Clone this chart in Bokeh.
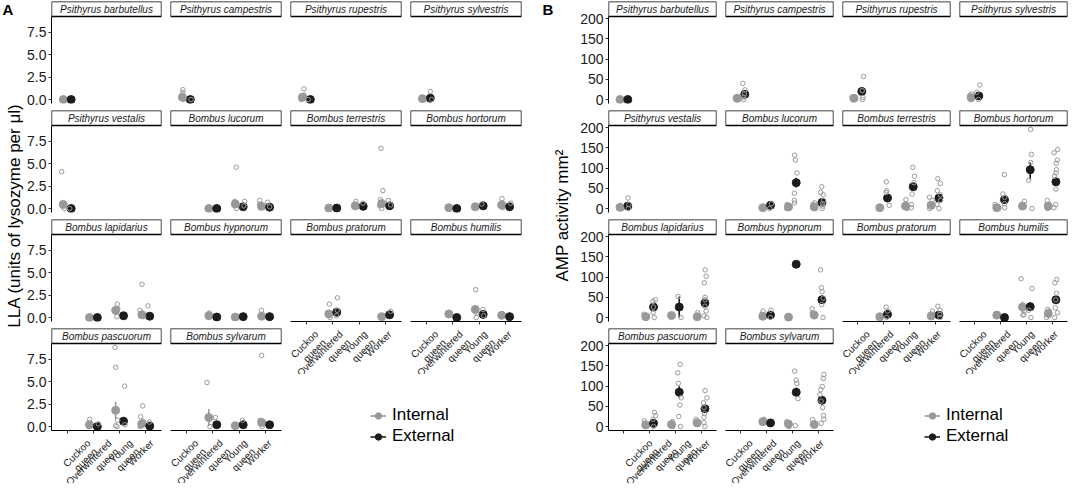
import math
from bokeh.plotting import figure
from bokeh.layouts import row, column
from bokeh.models import (Range1d, FixedTicker, PrintfTickFormatter, ColumnDataSource,
                          Legend, LegendItem, BoxAnnotation, Label)
from bokeh.transform import jitter
from bokeh.core.properties import value
from bokeh.embed import file_html
from bokeh.resources import INLINE

# ---------------- data ----------------
CASTES = ["Cuckoo queen", "Overwintered queen", "Young queen", "Worker"]
CASTE_CODES = ["C", "O", "Y", "W"]
CASTE_TICK_LABELS = ["Cuckoo\nqueen", "Overwintered\nqueen", "Young\nqueen", "Worker"]
SOURCES = ["Internal", "External"]
SOURCE_CODES = ["I", "E"]
SPECIES = ["Psithyrus barbutellus", "Psithyrus campestris", "Psithyrus rupestris", "Psithyrus sylvestris",
           "Psithyrus vestalis", "Bombus lucorum", "Bombus terrestris", "Bombus hortorum",
           "Bombus lapidarius", "Bombus hypnorum", "Bombus pratorum", "Bombus humilis",
           "Bombus pascuorum", "Bombus sylvarum"]

LLA_TITLE = "LLA (units of lysozyme per μl)"
LLA_TICKS = [0, 2.5, 5, 7.5]
# (species epithet, caste, source, mean, low, high)
LLA_MEANS = [
    ("barbutellus", "C", "I", 0.0, 0.0, 0.0), ("barbutellus", "C", "E", 0.0, 0.0, 0.0),
    ("campestris", "C", "I", 0.25, 0.1, 0.4), ("campestris", "C", "E", 0.0, 0.0, 0.0),
    ("rupestris", "C", "I", 0.25, 0.05, 0.45), ("rupestris", "C", "E", 0.0, 0.0, 0.0),
    ("sylvestris", "C", "I", 0.1, 0.0, 0.2), ("sylvestris", "C", "E", 0.15, 0.0, 0.3),
    ("vestalis", "C", "I", 0.45, 0.2, 0.7), ("vestalis", "C", "E", 0.0, 0.0, 0.0),
    ("lucorum", "O", "I", 0.0, 0.0, 0.0), ("lucorum", "O", "E", 0.0, 0.0, 0.0),
    ("lucorum", "Y", "I", 0.5, 0.1, 0.9), ("lucorum", "Y", "E", 0.2, 0.1, 0.3),
    ("lucorum", "W", "I", 0.25, 0.1, 0.4), ("lucorum", "W", "E", 0.15, 0.05, 0.25),
    ("terrestris", "O", "I", 0.05, 0.05, 0.05), ("terrestris", "O", "E", 0.05, 0.05, 0.05),
    ("terrestris", "Y", "I", 0.3, 0.2, 0.4), ("terrestris", "Y", "E", 0.25, 0.15, 0.35),
    ("terrestris", "W", "I", 0.55, 0.2, 0.9), ("terrestris", "W", "E", 0.3, 0.15, 0.45),
    ("hortorum", "O", "I", 0.1, 0.1, 0.1), ("hortorum", "O", "E", 0.0, 0.0, 0.0),
    ("hortorum", "Y", "I", 0.2, 0.1, 0.3), ("hortorum", "Y", "E", 0.3, 0.2, 0.4),
    ("hortorum", "W", "I", 0.4, 0.2, 0.6), ("hortorum", "W", "E", 0.2, 0.1, 0.3),
    ("lapidarius", "O", "I", 0.0, 0.0, 0.0), ("lapidarius", "O", "E", 0.0, 0.0, 0.0),
    ("lapidarius", "Y", "I", 0.8, 0.35, 1.25), ("lapidarius", "Y", "E", 0.2, 0.1, 0.3),
    ("lapidarius", "W", "I", 0.3, 0.1, 0.5), ("lapidarius", "W", "E", 0.15, 0.05, 0.25),
    ("hypnorum", "O", "I", 0.2, 0.1, 0.3), ("hypnorum", "O", "E", 0.05, 0.05, 0.05),
    ("hypnorum", "Y", "I", 0.05, 0.05, 0.05), ("hypnorum", "Y", "E", 0.1, 0.1, 0.1),
    ("hypnorum", "W", "I", 0.15, 0.05, 0.25), ("hypnorum", "W", "E", 0.1, 0.1, 0.1),
    ("pratorum", "O", "I", 0.4, 0.2, 0.6), ("pratorum", "O", "E", 0.6, 0.3, 0.9),
    ("pratorum", "W", "I", 0.1, 0.1, 0.1), ("pratorum", "W", "E", 0.3, 0.15, 0.45),
    ("humilis", "O", "I", 0.4, 0.4, 0.4), ("humilis", "O", "E", 0.0, 0.0, 0.0),
    ("humilis", "Y", "I", 0.9, 0.4, 1.4), ("humilis", "Y", "E", 0.35, 0.2, 0.5),
    ("humilis", "W", "I", 0.25, 0.15, 0.35), ("humilis", "W", "E", 0.1, 0.1, 0.1),
    ("pascuorum", "O", "I", 0.2, 0.1, 0.3), ("pascuorum", "O", "E", 0.0, 0.0, 0.0),
    ("pascuorum", "Y", "I", 1.8, 0.85, 2.75), ("pascuorum", "Y", "E", 0.6, 0.3, 0.9),
    ("pascuorum", "W", "I", 0.3, 0.1, 0.5), ("pascuorum", "W", "E", 0.05, 0.05, 0.05),
    ("sylvarum", "O", "I", 1.0, 0.05, 1.95), ("sylvarum", "O", "E", 0.2, 0.05, 0.35),
    ("sylvarum", "Y", "I", 0.1, 0.1, 0.1), ("sylvarum", "Y", "E", 0.2, 0.1, 0.3),
    ("sylvarum", "W", "I", 0.45, 0.15, 0.75), ("sylvarum", "W", "E", 0.2, 0.1, 0.3),
]
# (species epithet, caste, source, individual values)
LLA_RAW = [
    ("campestris", "C", "I", [1.1, 0.8, 0.5, 0.2, 0.0]), ("campestris", "C", "E", [0.0]),
    ("rupestris", "C", "I", [1.2, 0.5, 0.3, 0.1, 0.0]), ("rupestris", "C", "E", [0.0]),
    ("sylvestris", "C", "I", [0.2, 0.0]), ("sylvestris", "C", "E", [0.9, 0.0]),
    ("vestalis", "C", "I", [4.1, 0.6, 0.3, 0.0]), ("vestalis", "C", "E", [0.0]),
    ("lucorum", "Y", "I", [4.6, 0.8, 0.4, 0.0]), ("lucorum", "Y", "E", [0.8, 0.3]),
    ("lucorum", "W", "I", [0.9, 0.5, 0.1]), ("lucorum", "W", "E", [0.7, 0.2]),
    ("terrestris", "Y", "I", [0.8, 0.2]), ("terrestris", "Y", "E", [0.6]),
    ("terrestris", "W", "I", [6.7, 2.0, 1.0, 0.3, 0.0]), ("terrestris", "W", "E", [0.9, 0.4]),
    ("hortorum", "Y", "E", [0.5]), ("hortorum", "W", "I", [1.1, 0.6, 0.1]), ("hortorum", "W", "E", [0.6]),
    ("lapidarius", "Y", "I", [1.5, 1.0, 0.1]), ("lapidarius", "W", "I", [3.7, 0.8, 0.5, 0.1]),
    ("lapidarius", "W", "E", [1.3]),
    ("hypnorum", "O", "I", [0.5]), ("hypnorum", "W", "I", [0.8]),
    ("pratorum", "O", "I", [1.5, 0.5, 0.0]), ("pratorum", "O", "E", [2.2, 0.8, 0.2]),
    ("pratorum", "W", "E", [0.7]),
    ("humilis", "Y", "I", [3.1, 0.5, 0.0]), ("humilis", "Y", "E", [0.9, 0.2]),
    ("pascuorum", "O", "I", [0.8, 0.3, 0.0]), ("pascuorum", "O", "E", [0.3]),
    ("pascuorum", "Y", "I", [8.8, 6.6, 0.7, 0.1, 0.0]), ("pascuorum", "Y", "E", [4.5, 0.2]),
    ("pascuorum", "W", "I", [2.3, 1.1, 0.6, 0.1, 0.0]), ("pascuorum", "W", "E", [0.5]),
    ("sylvarum", "O", "I", [4.9, 0.0]), ("sylvarum", "O", "E", [1.0]),
    ("sylvarum", "Y", "E", [0.7]), ("sylvarum", "W", "I", [7.9, 0.7, 0.4, 0.0]),
]

AMP_TITLE = "AMP activity mm²"
AMP_TICKS = [0, 50, 100, 150, 200]
AMP_MEANS = [
    ("barbutellus", "C", "I", 0, 0, 0), ("barbutellus", "C", "E", 0, 0, 0),
    ("campestris", "C", "I", 3, 1, 5), ("campestris", "C", "E", 13, 7, 19),
    ("rupestris", "C", "I", 3, 1, 5), ("rupestris", "C", "E", 20, 12, 28),
    ("sylvestris", "C", "I", 5, 2, 8), ("sylvestris", "C", "E", 9, 4, 14),
    ("vestalis", "C", "I", 3, 1, 5), ("vestalis", "C", "E", 6, 2, 10),
    ("lucorum", "O", "I", 2, 2, 2), ("lucorum", "O", "E", 8, 4, 12),
    ("lucorum", "Y", "I", 4, 2, 6), ("lucorum", "Y", "E", 64, 52, 76),
    ("lucorum", "W", "I", 4, 2, 6), ("lucorum", "W", "E", 15, 9, 21),
    ("terrestris", "O", "I", 2, 2, 2), ("terrestris", "O", "E", 26, 18, 34),
    ("terrestris", "Y", "I", 6, 3, 9), ("terrestris", "Y", "E", 54, 45, 63),
    ("terrestris", "W", "I", 8, 5, 11), ("terrestris", "W", "E", 26, 19, 33),
    ("hortorum", "O", "I", 2, 2, 2), ("hortorum", "O", "E", 22, 15, 30),
    ("hortorum", "Y", "I", 6, 3, 9), ("hortorum", "Y", "E", 96, 72, 114),
    ("hortorum", "W", "I", 6, 3, 9), ("hortorum", "W", "E", 66, 56, 78),
    ("lapidarius", "O", "I", 2, 2, 2), ("lapidarius", "O", "E", 26, 16, 36),
    ("lapidarius", "Y", "I", 5, 5, 5), ("lapidarius", "Y", "E", 26, 0, 52),
    ("lapidarius", "W", "I", 2, 1, 3), ("lapidarius", "W", "E", 36, 26, 46),
    ("hypnorum", "O", "I", 3, 1, 5), ("hypnorum", "O", "E", 6, 2, 11),
    ("hypnorum", "Y", "I", 1, 1, 1), ("hypnorum", "Y", "E", 132, 132, 132),
    ("hypnorum", "W", "I", 6, 3, 9), ("hypnorum", "W", "E", 44, 34, 54),
    ("pratorum", "O", "I", 2, 2, 2), ("pratorum", "O", "E", 8, 3, 13),
    ("pratorum", "W", "I", 4, 2, 6), ("pratorum", "W", "E", 6, 2, 11),
    ("humilis", "O", "I", 6, 6, 6), ("humilis", "O", "E", 0, 0, 0),
    ("humilis", "Y", "I", 26, 12, 40), ("humilis", "Y", "E", 27, 16, 38),
    ("humilis", "W", "I", 10, 6, 14), ("humilis", "W", "E", 44, 36, 53),
    ("pascuorum", "O", "I", 4, 2, 6), ("pascuorum", "O", "E", 8, 2, 15),
    ("pascuorum", "Y", "I", 5, 2, 8), ("pascuorum", "Y", "E", 85, 72, 100),
    ("pascuorum", "W", "I", 9, 6, 12), ("pascuorum", "W", "E", 44, 36, 53),
    ("sylvarum", "O", "I", 12, 9, 15), ("sylvarum", "O", "E", 9, 5, 14),
    ("sylvarum", "Y", "I", 6, 3, 9), ("sylvarum", "Y", "E", 85, 75, 96),
    ("sylvarum", "W", "I", 5, 3, 7), ("sylvarum", "W", "E", 65, 55, 75),
]
AMP_RAW = [
    ("campestris", "C", "I", [5, 0]), ("campestris", "C", "E", [40, 24, 14, 6, 0]),
    ("rupestris", "C", "I", [6, 0]), ("rupestris", "C", "E", [57, 22, 5, 0]),
    ("sylvestris", "C", "I", [14, 10, 0]), ("sylvestris", "C", "E", [36, 18, 0]),
    ("vestalis", "C", "I", [5, 0]), ("vestalis", "C", "E", [26, 10, 0]),
    ("lucorum", "O", "I", [0]), ("lucorum", "O", "E", [12, 0]),
    ("lucorum", "Y", "I", [10, 0]), ("lucorum", "Y", "E", [132, 120, 88, 38, 20, 14]),
    ("lucorum", "W", "I", [14, 10, 0]), ("lucorum", "W", "E", [54, 40, 34, 20, 12, 6, 0]),
    ("terrestris", "O", "E", [66, 44, 40, 8]), ("terrestris", "Y", "I", [22, 12, 0]),
    ("terrestris", "Y", "E", [102, 80, 64, 36, 10, 2]), ("terrestris", "W", "I", [28, 20, 10, 0]),
    ("terrestris", "W", "E", [74, 62, 44, 34, 20, 10, 0]),
    ("hortorum", "O", "I", [10, 0]), ("hortorum", "O", "E", [84, 36, 28, 12, 2]),
    ("hortorum", "Y", "I", [18, 10]), ("hortorum", "Y", "E", [196, 134, 114, 70, 0]),
    ("hortorum", "W", "I", [20, 10, 0]), ("hortorum", "W", "E", [146, 138, 120, 112, 96, 88, 80, 48, 10, 2]),
    ("lapidarius", "O", "I", [8]), ("lapidarius", "O", "E", [44, 40, 26, 12, 0]),
    ("lapidarius", "Y", "E", [52, 0]), ("lapidarius", "W", "I", [12, 0]),
    ("lapidarius", "W", "E", [118, 102, 86, 50, 44, 28, 16, 4, 0]),
    ("hypnorum", "O", "I", [16, 8]), ("hypnorum", "O", "E", [18, 0]),
    ("hypnorum", "W", "I", [22, 12]), ("hypnorum", "W", "E", [118, 74, 64, 48, 32, 0]),
    ("pratorum", "O", "E", [26, 16, 0]), ("pratorum", "W", "I", [16, 8]),
    ("pratorum", "W", "E", [28, 18, 8, 0]),
    ("humilis", "Y", "I", [96, 16, 8, 6]), ("humilis", "Y", "E", [72, 18, 0]),
    ("humilis", "W", "I", [20, 16, 6, 0]), ("humilis", "W", "E", [94, 86, 60, 44, 24, 12, 0]),
    ("pascuorum", "O", "I", [14, 8]), ("pascuorum", "O", "E", [35, 27, 18, 0]),
    ("pascuorum", "Y", "I", [12, 0]), ("pascuorum", "Y", "E", [154, 133, 107, 71, 53, 25, 0]),
    ("pascuorum", "W", "I", [18, 10]), ("pascuorum", "W", "E", [89, 71, 59, 47, 32, 23, 10, 0]),
    ("sylvarum", "O", "I", [18, 14]), ("sylvarum", "Y", "I", [12, 0]),
    ("sylvarum", "Y", "E", [137, 115, 107, 69, 2]), ("sylvarum", "W", "I", [17, 8]),
    ("sylvarum", "W", "E", [129, 119, 99, 91, 79, 63, 47, 27, 18, 8]),
]

# ---------------- style / layout ----------------
FONT = "Liberation Sans"
COLORS = {"I": "#999999", "E": "#1c1c1c"}
RAW_COLOR = "#9a9a9a"
TEXT_COLOR = "#1a1a1a"
DODGE = {"I": -0.15, "E": 0.15}
X0, X1 = 0.4, 4.6
SH, PH, GAP, XAX, BB, CB, AXB = 16, 87, 6, 53, 5, 8, 5
LINE_STEP = 8.5   # perpendicular shift (px) between the two lines of a rotated tick label
TOTAL_H = 4 * (SH + PH) + 3 * GAP + XAX
ROWS_CENTER = (4 * (SH + PH) + 3 * GAP) / 2

ASSAYS = {
    "A": dict(means=LLA_MEANS, raw=LLA_RAW, ticks=LLA_TICKS, fmt="%.1f", yr=(-0.44, 9.24),
              fw=112, lw=26, title=LLA_TITLE, tw=24, txc=14, lx=2, legx=88),
    "B": dict(means=AMP_MEANS, raw=AMP_RAW, ticks=AMP_TICKS, fmt="%d", yr=(-9.8, 205.5),
              fw=109, lw=36, title=AMP_TITLE, tw=42, txc=32, lx=12, legx=90),
}


def xpos(caste, src):
    return CASTE_CODES.index(caste) + 1 + DODGE[src]


def style_axis(ax):
    ax.major_label_text_font = FONT
    ax.major_label_text_color = TEXT_COLOR
    ax.major_tick_out = 3
    ax.major_tick_in = 0
    ax.minor_tick_out = 0
    ax.minor_tick_in = 0
    ax.axis_line_color = "black"
    ax.major_tick_line_color = "#333333"


def tick_label_fig(key, first_col):
    """Rotated two-line category labels under a bottom panel, on the same x scale."""
    cfg = ASSAYS[key]
    lw = cfg["lw"] if first_col else CB
    width = cfg["fw"] + lw
    height = XAX - AXB
    ppu = (cfg["fw"] - 1) / (X1 - X0)
    start = X0 - lw / ppu
    end = start + width / ppu
    f = figure(width=width, height=height, x_range=Range1d(start, end),
               y_range=Range1d(height, 0),
               x_axis_location=None, y_axis_location=None, toolbar_location=None,
               output_backend="svg", min_border=0)
    f.grid.visible = False
    f.outline_line_color = None
    xs, ys, texts = [], [], []
    for i, lab in enumerate(CASTE_TICK_LABELS):
        for j, line in enumerate(lab.split("\n")):
            xs.append(i + 1 + j * LINE_STEP / ppu)
            ys.append(2 + j * LINE_STEP)
            texts.append(line)
    src = ColumnDataSource(dict(x=xs, y=ys, text=texts))
    f.text(x="x", y="y", text="text", source=src, angle=math.pi / 4, text_align="right",
           text_baseline="top", text_font=value(FONT), text_font_size="10px",
           text_color=TEXT_COLOR)
    return f


def panel(key, name, first_col, show_x):
    cfg = ASSAYS[key]
    lw = cfg["lw"] if first_col else CB
    ep = name.split()[1]
    y0, y1 = cfg["yr"]
    strip_px = SH - 1
    y_top = y1 + strip_px * (y1 - y0) / PH
    bottom = AXB if show_x else BB
    p = figure(width=cfg["fw"] + lw, height=SH + PH + bottom,
               x_range=Range1d(X0, X1), y_range=Range1d(y0, y_top),
               x_axis_location="below" if show_x else None,
               y_axis_location="left" if first_col else None,
               toolbar_location=None, output_backend="svg",
               min_border_left=lw, min_border_right=1, min_border_top=1,
               min_border_bottom=bottom)
    p.grid.visible = False
    p.outline_line_color = None

    # facet strip
    p.add_layout(BoxAnnotation(bottom=y1, fill_color="white", fill_alpha=1.0,
                               line_color="black", line_alpha=1.0, line_width=1.4))
    p.add_layout(Label(x=(X0 + X1) / 2, y=y1, y_offset=strip_px / 2, text=name,
                       text_align="center", text_baseline="middle", text_font=FONT,
                       text_font_style="italic", text_font_size="10px", text_color=TEXT_COLOR))

    if first_col:
        ax = p.yaxis[0]
        style_axis(ax)
        ax.ticker = FixedTicker(ticks=cfg["ticks"])
        ax.formatter = PrintfTickFormatter(format=cfg["fmt"])
        ax.major_label_text_font_size = "14px"
        ax.major_label_standoff = 2
        ax.bounds = (y0, y1)
    if show_x:
        ax = p.xaxis[0]
        style_axis(ax)
        ax.ticker = FixedTicker(ticks=[1, 2, 3, 4])
        ax.major_label_overrides = {i + 1: "" for i in range(len(CASTES))}
        ax.major_label_text_font_size = "1px"
        ax.major_label_standoff = 0

    for src in SOURCE_CODES:
        rows = [m for m in cfg["means"] if m[0] == ep and m[2] == src]
        if rows:
            src_m = ColumnDataSource(dict(
                x=[xpos(r[1], src) for r in rows], mean=[r[3] for r in rows],
                lo=[r[4] for r in rows], hi=[r[5] for r in rows]))
            p.segment(x0="x", y0="lo", x1="x", y1="hi", source=src_m,
                      line_color=COLORS[src], line_width=1.6)
            p.scatter(x="x", y="mean", source=src_m, size=8, marker="circle",
                      fill_color=COLORS[src], line_color=COLORS[src])
    xs, ys = [], []
    for r in cfg["raw"]:
        if r[0] == ep:
            for v in r[3]:
                xs.append(xpos(r[1], r[2]))
                ys.append(v)
    if xs:
        src_r = ColumnDataSource(dict(x=xs, y=ys))
        p.scatter(x=jitter("x", width=0.16, distribution="uniform"), y="y", source=src_r,
                  size=4.5, marker="circle", fill_color=None, line_color=RAW_COLOR,
                  line_width=1)
    if show_x:
        return column([p, tick_label_fig(key, first_col)], spacing=0)
    return p


def ytitle(key, letter):
    cfg = ASSAYS[key]
    w = cfg["tw"]
    f = figure(width=w, height=TOTAL_H, x_range=Range1d(0, w), y_range=Range1d(TOTAL_H, 0),
               x_axis_location=None, y_axis_location=None, toolbar_location=None,
               output_backend="svg", min_border=0)
    f.grid.visible = False
    f.outline_line_color = None
    f.text(x=[cfg["txc"]], y=[ROWS_CENTER], text=[cfg["title"]], angle=math.pi / 2,
           text_align="center", text_baseline="middle", text_font=value(FONT),
           text_font_size="17px", text_color="black")
    f.text(x=[cfg["lx"]], y=[0], text=[letter], text_align="left", text_baseline="top",
           text_font=value(FONT), text_font_style="bold", text_font_size="15px",
           text_color="black")
    return f


def legend_fig(key):
    cfg = ASSAYS[key]
    h = TOTAL_H - (3 * (SH + PH) + 2 * GAP + XAX)
    lf = figure(width=2 * (cfg["fw"] + CB), height=h, x_range=Range1d(0, 1), y_range=Range1d(0, 1),
                x_axis_location=None, y_axis_location=None, toolbar_location=None,
                output_backend="svg", min_border=0)
    lf.grid.visible = False
    lf.outline_line_color = None
    items = []
    nan = float("nan")
    for src, lab in zip(SOURCE_CODES, SOURCES):
        rl = lf.line(x=[nan, nan], y=[nan, nan], line_color=COLORS[src], line_width=1.6)
        rs = lf.scatter(x=[nan], y=[nan], size=7, marker="circle", fill_color=COLORS[src],
                        line_color=COLORS[src])
        items.append(LegendItem(label=lab, renderers=[rl, rs]))
    leg = Legend(items=items, location=(cfg["legx"], h - 72), orientation="vertical",
                 label_text_font=FONT, label_text_font_size="17px", label_text_color="black",
                 glyph_width=16, glyph_height=17, label_height=17, label_standoff=6,
                 spacing=1, padding=0, margin=0, border_line_color=None,
                 background_fill_alpha=0)
    lf.add_layout(leg)
    return lf


def side(key, letter):
    grid = [SPECIES[0:4], SPECIES[4:8], SPECIES[8:12], SPECIES[12:14]]
    sp = GAP - BB
    col1 = column([panel(key, grid[r][0], True, r == 3) for r in range(4)], spacing=sp)
    col2 = column([panel(key, grid[r][1], False, r == 3) for r in range(4)], spacing=sp)
    col3 = column([panel(key, grid[r][2], False, r == 2) for r in range(3)], spacing=sp)
    col4 = column([panel(key, grid[r][3], False, r == 2) for r in range(3)], spacing=sp)
    right = column([row([col3, col4], spacing=0), legend_fig(key)], spacing=0)
    inner = row([col1, col2, right], spacing=0)
    return row([ytitle(key, letter), inner], spacing=0)


layout = row([side("A", "A"), side("B", "B")], spacing=8)
open("out.html", "w").write(file_html(layout, INLINE))
